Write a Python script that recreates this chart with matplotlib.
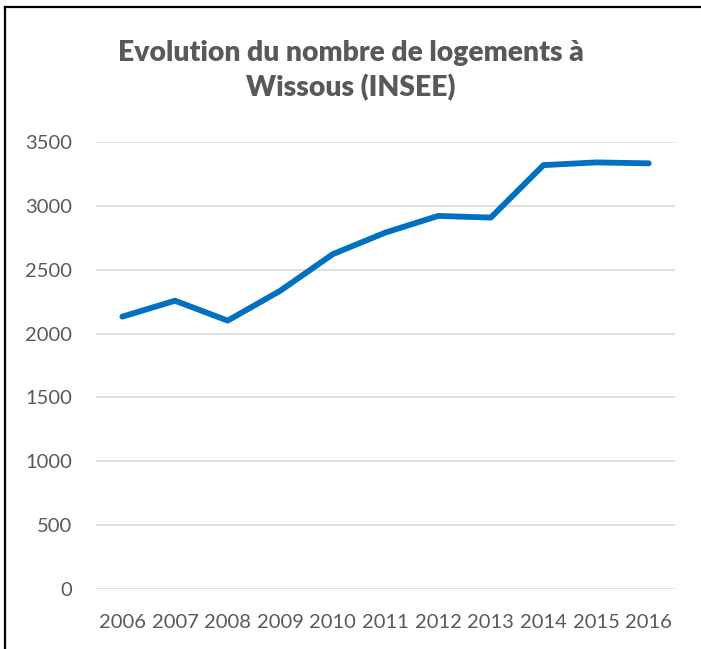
import matplotlib
matplotlib.use("Agg")
import matplotlib.pyplot as plt
from matplotlib.lines import Line2D

# Data
years = ['2006', '2007', '2008', '2009', '2010', '2011',
         '2012', '2013', '2014', '2015', '2016']
logements = [2133, 2258, 2102, 2336, 2623, 2792,
             2922, 2909, 3320, 3341, 3334]
yticks = [0, 500, 1000, 1500, 2000, 2500, 3000, 3500]

plt.rcParams['font.family'] = ['Lato', 'DejaVu Sans']
text_grey = '#595959'

fig = plt.figure(figsize=(7.01, 6.49), dpi=100)
ax = fig.add_axes([0.137, 0.0925, 0.826, 0.6885])

ax.plot(range(len(years)), logements, color='#0070C0', linewidth=4.2,
        solid_capstyle='round', solid_joinstyle='round', zorder=3)

ax.set_xlim(-0.5, len(years) - 0.5)
ax.set_ylim(0, 3500)
ax.set_yticks(yticks)
ax.set_xticks(range(len(years)))
ax.set_xticklabels(years)

ax.grid(axis='y', color='#D9D9D9', linewidth=1.1)
ax.set_axisbelow(True)
for s in ax.spines.values():
    s.set_visible(False)
ax.tick_params(axis='both', length=0, labelsize=14.5, colors=text_grey)
ax.tick_params(axis='x', pad=18)
ax.tick_params(axis='y', pad=17)

fig.text(0.5, 0.891, 'Evolution du nombre de logements à\nWissous (INSEE)',
         ha='center', va='center', fontsize=20.3, fontweight='heavy',
         color=text_grey, linespacing=1.35)

# black frame (top and left edges visible in the reference)
fig.add_artist(Line2D([5 / 701, 1], [1 - 7 / 649, 1 - 7 / 649],
                      transform=fig.transFigure, color='black', linewidth=1.6))
fig.add_artist(Line2D([5 / 701, 5 / 701], [0, 1 - 7 / 649],
                      transform=fig.transFigure, color='black', linewidth=1.6))

fig.savefig('out.png', dpi=100)
